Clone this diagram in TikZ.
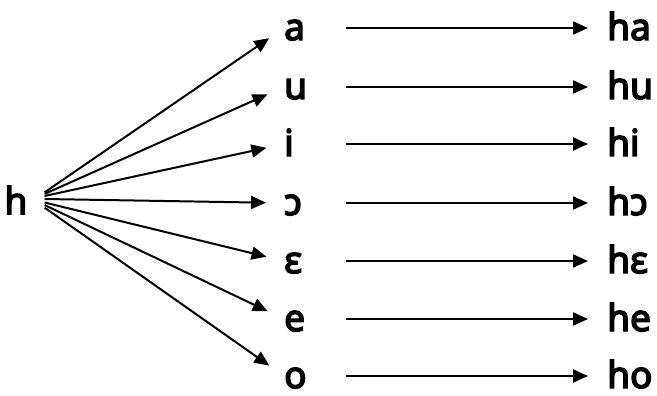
\documentclass[tikz,border=0pt]{standalone}
\usepackage{fontspec}
\setmainfont{Noto Sans}
\newfontfamily\ipafont{Noto Sans}[FakeBold=4]
\usepackage{tikz}
\usetikzlibrary{arrows.meta,positioning}

\tikzset{
  ipa/.style={font=\fontsize{37}{42}\selectfont\ipafont},
  vowel/.style={ipa, anchor=base west, inner sep=0pt, text height=24pt, text depth=0pt},
  leftvowel/.style={vowel, text width=22pt, align=left},
  fan/.style={line width=2pt, -{Triangle[length=15pt,width=13pt]}, shorten >=18pt},
  rowarrow/.style={line width=2pt, -{Triangle[length=15pt,width=13pt]}, shorten <=40pt, shorten >=19pt}
}

\begin{document}
\begin{tikzpicture}[x=1pt,y=-1pt]
  \useasboundingbox (0,0) rectangle (657,396);
  % onset
  \node[ipa, inner xsep=17pt] (h) at (16,200) {h};
  % vowels
  \node[leftvowel] (a)  at (284,40)  {a};
  \node[leftvowel] (u)  at (284,99)  {u};
  \node[leftvowel] (i)  at (284,156) {i};
  \node[leftvowel] (oo) at (284,215) {ɔ};
  \node[leftvowel] (ee) at (284,273) {ɛ};
  \node[leftvowel] (e)  at (284,331) {e};
  \node[leftvowel] (o)  at (284,388) {o};
  % syllables
  \node[vowel] (ha)  at (607,40)  {ha};
  \node[vowel] (hu)  at (607,99)  {hu};
  \node[vowel] (hi)  at (607,156) {hi};
  \node[vowel] (hoo) at (607,215) {hɔ};
  \node[vowel] (hee) at (607,273) {hɛ};
  \node[vowel] (he)  at (607,331) {he};
  \node[vowel] (ho)  at (607,388) {ho};
  % fan from h
  \draw[fan] (h.15)  -- (a.west);
  \draw[fan] (h.12)  -- (u.west);
  \draw[fan] (h.8)   -- (i.west);
  \draw[fan] (h.2)   -- (oo.west);
  \draw[fan] (h.-5)  -- (ee.west);
  \draw[fan] (h.-10) -- (e.west);
  \draw[fan] (h.-15) -- (o.west);
  % rows
  \draw[rowarrow] (a.east) -- (ha.west);
  \draw[rowarrow] (u.east) -- (hu.west);
  \draw[rowarrow] (i.east) -- (hi.west);
  \draw[rowarrow] (oo.east) -- (hoo.west);
  \draw[rowarrow] (ee.east) -- (hee.west);
  \draw[rowarrow] (e.east) -- (he.west);
  \draw[rowarrow] (o.east) -- (ho.west);
\end{tikzpicture}
\end{document}
